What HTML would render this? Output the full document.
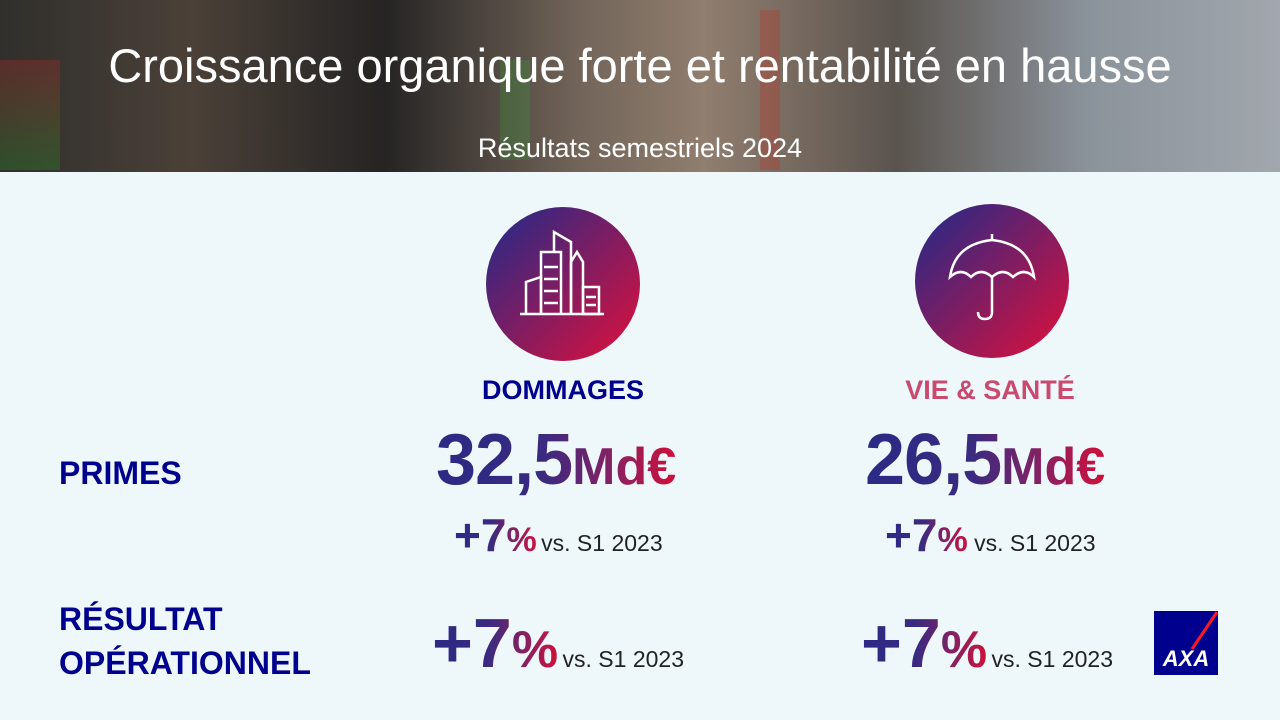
<!DOCTYPE html>
<html><head><meta charset="utf-8">
<style>
body{margin:0;width:1280px;height:720px;overflow:hidden;background:#eef8fb;font-family:"Liberation Sans",sans-serif;position:relative}
.hdr{position:absolute;left:0;top:0;width:1280px;height:172px;overflow:hidden;
background:linear-gradient(90deg,#3b3a36 0%,#5b4f45 15%,#2e2c2c 30%,#8a7a6c 45%,#b09a88 55%,#6f6760 70%,#a9b3bd 85%,#c5ccd3 100%)}
.abs{position:absolute;white-space:nowrap}
.g{display:inline-block;line-height:1.15;background:linear-gradient(90deg,#2a2a85 0%,#3a2a80 45%,#8a2060 75%,#d0103a 100%);-webkit-background-clip:text;background-clip:text;color:transparent}
.lbl{color:#00008f;font-weight:bold;font-size:32px}
.vs{color:#222;font-size:23px}
</style></head><body>
<div class="hdr">
 <div class="abs" style="left:0;top:60px;width:60px;height:110px;background:linear-gradient(180deg,#c33 0,#3a3 100%);opacity:.35"></div>
 <div class="abs" style="left:760px;top:10px;width:20px;height:160px;background:#d43;opacity:.35"></div>
 <div class="abs" style="left:500px;top:60px;width:30px;height:100px;background:#4b4;opacity:.3"></div>
 <div class="abs" style="left:0;top:0;width:1280px;height:172px;background:rgba(0,0,0,.18)"></div>
</div>
<div class="abs" style="left:0;width:1280px;text-align:center;top:38px;color:#fff;font-size:47px">Croissance organique forte et rentabilité en hausse</div>
<div class="abs" style="left:0;width:1280px;text-align:center;top:133px;color:#fff;font-size:27px">Résultats semestriels 2024</div>

<svg class="abs" style="left:486px;top:207px" width="154" height="154">
<defs><linearGradient id="cg" x1="0" y1="0" x2="1" y2="1"><stop offset="0" stop-color="#1e2a8a"/><stop offset="1" stop-color="#e0103a"/></linearGradient></defs>
<circle cx="77" cy="77" r="77" fill="url(#cg)"/>
<g stroke="#fff" stroke-width="2.5" fill="none">
<line x1="34" y1="107" x2="118" y2="107"/>
<polyline points="40,107 40,75 55,70 55,107"/><polyline points="55,107 55,45 75,45 75,107"/>
<polyline points="68,45 68,25 85,35 85,107"/><polyline points="85,107 85,55 91,45 97,55 97,107"/>
<rect x="97" y="80" width="16" height="27"/>
<line x1="58" y1="60" x2="72" y2="60"/><line x1="58" y1="72" x2="72" y2="72"/><line x1="58" y1="84" x2="72" y2="84"/><line x1="58" y1="96" x2="72" y2="96"/>
<line x1="100" y1="90" x2="110" y2="90"/><line x1="100" y1="98" x2="110" y2="98"/>
</g></svg>
<svg class="abs" style="left:915px;top:204px" width="154" height="154">
<circle cx="77" cy="77" r="77" fill="url(#cg)"/>
<g stroke="#fff" stroke-width="2.5" fill="none">
<path d="M35 73 Q40 40 77 36 Q114 40 119 73 Q109 63 98 73 Q88 63 77 73 Q66 63 56 73 Q46 63 35 73Z"/>
<line x1="77" y1="30" x2="77" y2="36"/><path d="M77 73 L77 108 Q77 115 70 115 Q63 115 63 108"/>
</g></svg>

<div class="abs" style="left:413px;width:300px;text-align:center;top:375px;color:#00008f;font-weight:bold;font-size:27px">DOMMAGES</div>
<div class="abs" style="left:840px;width:300px;text-align:center;top:375px;color:#c94a6e;font-weight:bold;font-size:27px">VIE &amp; SANTÉ</div>

<div class="abs lbl" style="left:59px;top:455px">PRIMES</div>
<div class="abs lbl" style="left:59px;top:597px;line-height:44px">RÉSULTAT<br>OPÉRATIONNEL</div>

<div class="abs g" style="left:436px;top:419px;font-weight:bold"><span style="font-size:72px;letter-spacing:-1px">32,5</span><span style="font-size:52px">Md€</span></div>
<div class="abs g" style="left:865px;top:419px;font-weight:bold"><span style="font-size:72px;letter-spacing:-1px">26,5</span><span style="font-size:52px">Md€</span></div>

<div class="abs" style="left:454px;top:509px"><span class="g" style="font-weight:bold"><span style="font-size:46px">+7</span><span style="font-size:34px">%</span></span> <span class="vs">vs. S1 2023</span></div>
<div class="abs" style="left:885px;top:509px"><span class="g" style="font-weight:bold"><span style="font-size:46px">+7</span><span style="font-size:34px">%</span></span><span class="vs"> vs. S1 2023</span></div>

<div class="abs" style="left:432px;top:603px"><span class="g" style="font-weight:bold"><span style="font-size:70px">+7</span><span style="font-size:52px">%</span></span> <span class="vs">vs. S1 2023</span></div>
<div class="abs" style="left:861px;top:603px"><span class="g" style="font-weight:bold"><span style="font-size:70px">+7</span><span style="font-size:52px">%</span></span> <span class="vs">vs. S1 2023</span></div>

<svg class="abs" style="left:1154px;top:611px" width="64" height="64">
<rect width="64" height="64" fill="#00008f"/>
<line x1="38" y1="38" x2="63" y2="1" stroke="#ff1721" stroke-width="3"/>
<text x="32" y="55" text-anchor="middle" fill="#fff" font-family="Liberation Sans" font-weight="bold" font-size="22" font-style="italic">AXA</text>
</svg>
</body></html>
